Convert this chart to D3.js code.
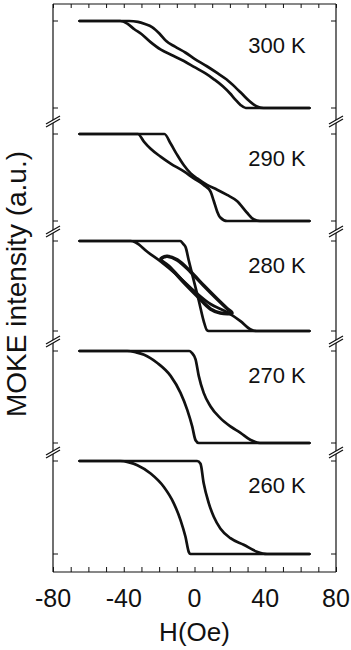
<!DOCTYPE html>
<html>
<head>
<meta charset="utf-8">
<script src="https://cdn.jsdelivr.net/npm/d3@7"></script>
<style>
html,body{margin:0;padding:0;background:#fff;}
svg{display:block;font-family:"Liberation Sans",Arial,sans-serif;}
</style>
</head>
<body>
<svg id="chart" width="351" height="650"></svg>
<script>
// ---------- data ----------
const temps = ["300 K", "290 K", "280 K", "270 K", "260 K"];
const xTickLabels = [-80, -40, 0, 40, 80];
const xMinorTicks = d3.range(-80, 81, 10);

// normalized MOKE intensity (0 = saturated low, 1 = saturated high) vs H (Oe)
const a300 = [[-65,1],[-37,1],[-32,0.99],[-28,0.965],[-24,0.93],[-20,0.86],[-16,0.77],[-11,0.705],[-5,0.635],[0,0.565],[7,0.48],[13,0.40],[18,0.33],[23,0.24],[27,0.16],[31,0.08],[35,0.02],[39,0],[65,0]];
const b300 = [[-65,1],[-42,1],[-38,0.97],[-34,0.905],[-30,0.85],[-25,0.76],[-19,0.67],[-13,0.61],[-6,0.54],[0,0.47],[6,0.40],[11,0.33],[16,0.25],[20,0.17],[23,0.10],[26,0.035],[29,0],[65,0]];

const a290 = [[-65,1],[-17,1],[-13.5,0.89],[-9.8,0.76],[-6,0.64],[-2.3,0.55],[1.5,0.49],[7.1,0.415],[12.8,0.36],[18.4,0.30],[24,0.23],[29.7,0.095],[33.4,0.02],[37,0],[65,0]];
const b290 = [[-65,1],[-32,1],[-28.5,0.91],[-24.8,0.83],[-19.2,0.74],[-13.5,0.66],[-6,0.57],[-0.4,0.49],[5.2,0.415],[9,0.34],[10.9,0.23],[12.8,0.11],[14.6,0.04],[18.4,0],[65,0]];

const a280 = [[-65,1],[-8,1],[-6.5,0.97],[-5,0.93],[-3.2,0.78],[-0.4,0.56],[2.4,0.34],[5.2,0.11],[7,0.01],[8,0],[65,0]];
const b280 = [[-65,1],[-36,1],[-33,0.98],[-26.7,0.88],[-19,0.77],[-9.8,0.62],[-0.4,0.45],[9,0.30],[18.4,0.21],[26,0.11],[31.5,0.02],[35,0],[65,0]];
const minor280 = [[-19,0.80],[-17,0.825],[-15.4,0.83],[-9.8,0.79],[-2.3,0.66],[5.2,0.505],[12.8,0.355],[18.4,0.25],[21.2,0.2],[14.6,0.2],[9,0.245],[1.5,0.39],[-6,0.54],[-13.5,0.70]];

const a270 = [[-65,1],[-3,1],[-1.5,0.98],[0.6,0.91],[2.4,0.73],[5.2,0.545],[9,0.40],[14.6,0.27],[20.3,0.18],[26,0.11],[31.5,0.035],[37,0],[65,0]];
const b270 = [[-65,1],[-38,1],[-33,0.985],[-28.5,0.96],[-21,0.87],[-13.5,0.73],[-7.9,0.545],[-4.1,0.36],[-1.3,0.18],[0.6,0.03],[2.4,0],[65,0]];

const a260 = [[-65,1],[1.5,1],[3.4,0.97],[5.2,0.76],[8.1,0.545],[10.9,0.40],[14.6,0.275],[20.3,0.17],[27.8,0.1],[35.3,0.025],[41,0],[65,0]];
const b260 = [[-65,1],[-42,1],[-37,0.985],[-32.3,0.955],[-24.8,0.865],[-17.3,0.72],[-11.7,0.545],[-7.9,0.365],[-5.1,0.185],[-3.2,0.02],[-2.3,0],[65,0]];

const branches = [[a300, b300], [a290, b290], [a280, b280], [a270, b270], [a260, b260]];
const minorLoops = [null, null, minor280, null, null];

// ---------- layout ----------
const L = 53, R = 336, T = 4, B = 572;
const panelTop = [21, 134, 241, 351, 461];
const panelBot = [108, 221, 331, 443, 554];

const svg = d3.select("#chart");
const x = d3.scaleLinear().domain([-80, 80]).range([L, R]);
const yScales = panelTop.map((t, i) => d3.scaleLinear().domain([0, 1]).range([panelBot[i], t]));

// ---------- frame ----------
const ink = "#111";
const topAxis = d3.axisTop(x).tickValues(xMinorTicks).tickSize(-4).tickFormat("");
svg.append("g").attr("transform", `translate(0,${T})`).call(topAxis)
  .call(g => { g.select(".domain").attr("d", `M${L},0H${R}`).attr("stroke", ink).attr("stroke-width", 1.2);
               g.selectAll("line").attr("stroke", ink).attr("stroke-width", 1); });
const botAxis = d3.axisBottom(x).tickValues(xMinorTicks).tickSize(-5).tickFormat("");
svg.append("g").attr("transform", `translate(0,${B})`).call(botAxis)
  .call(g => { g.select(".domain").attr("d", `M${L},0H${R}`).attr("stroke", ink).attr("stroke-width", 1.2);
               g.selectAll("line").attr("stroke", ink).attr("stroke-width", 1); });
svg.append("g").selectAll("text").data(xTickLabels).join("text")
  .attr("x", d => x(d)).attr("y", 607).attr("text-anchor", "middle")
  .attr("font-size", 25).attr("fill", ink).text(d => d);
svg.append("text").attr("x", x(0)).attr("y", 641).attr("text-anchor", "middle")
  .attr("font-size", 26).attr("fill", ink).text("H(Oe)");
svg.append("text").attr("transform", `translate(26,${284}) rotate(-90)`).attr("text-anchor", "middle")
  .attr("font-size", 28).attr("fill", ink).text("MOKE intensity (a.u.)");

[L, R].forEach(xx => svg.append("line").attr("x1", xx).attr("x2", xx).attr("y1", T).attr("y2", B)
  .attr("stroke", ink).attr("stroke-width", 1.2));
yScales.forEach(ys => {
  [0, 1].forEach(v => {
    svg.append("line").attr("x1", L).attr("x2", L + 5).attr("y1", ys(v)).attr("y2", ys(v)).attr("stroke", ink);
    svg.append("line").attr("x1", R).attr("x2", R - 5).attr("y1", ys(v)).attr("y2", ys(v)).attr("stroke", ink);
  });
});
for (let i = 0; i < 4; i++) {
  const yb = (panelBot[i] + panelTop[i + 1]) / 2;
  [L, R].forEach(xx => {
    const g = svg.append("g").attr("transform", `translate(${xx},${yb})`);
    g.append("polygon").attr("points", "-7,3 7,-5 7,-2 -7,6").attr("fill", "#fff");
    g.append("line").attr("x1", -7).attr("y1", 3).attr("x2", 7).attr("y2", -5).attr("stroke", ink).attr("stroke-width", 1.3);
    g.append("line").attr("x1", -7).attr("y1", 6).attr("x2", 7).attr("y2", -2).attr("stroke", ink).attr("stroke-width", 1.3);
  });
}

// ---------- curves ----------
branches.forEach((pair, i) => {
  const ys = yScales[i];
  const line = d3.line().x(d => x(d[0])).y(d => ys(d[1])).curve(d3.curveMonotoneX);
  pair.forEach(br => {
    svg.append("path").attr("d", line(br)).attr("fill", "none")
      .attr("stroke", ink).attr("stroke-width", 2.7).attr("stroke-linejoin", "round").attr("stroke-linecap", "round");
  });
  if (minorLoops[i]) {
    const loop = d3.line().x(d => x(d[0])).y(d => ys(d[1])).curve(d3.curveCatmullRomClosed);
    svg.append("path").attr("d", loop(minorLoops[i])).attr("fill", "none")
      .attr("stroke", ink).attr("stroke-width", 3.6).attr("stroke-linejoin", "round");
  }
  svg.append("text").attr("x", 277).attr("y", panelTop[i] + 32).attr("text-anchor", "middle")
    .attr("font-size", 22).attr("fill", ink).text(temps[i]);
});
</script>
</body>
</html>
